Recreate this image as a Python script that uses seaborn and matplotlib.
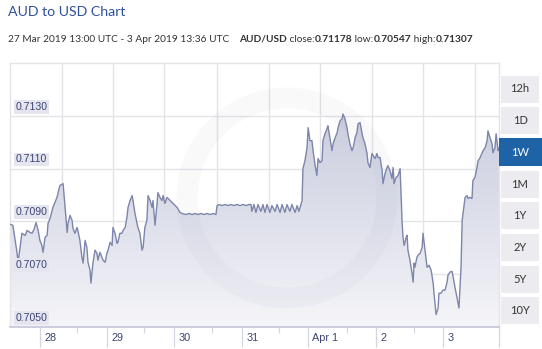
import numpy as np
import pandas as pd
import matplotlib
matplotlib.use("Agg")
import matplotlib.pyplot as plt
import matplotlib.transforms as mtrans
from matplotlib.colors import LinearSegmentedColormap
from matplotlib.patches import Rectangle, Ellipse
import seaborn as sns

# ---------------- data ----------------
hours = [0.0, 1.0, 2.4, 2.8, 4.1, 5.2, 5.9, 6.9, 7.6, 8.3, 9.0, 9.7, 10.3, 11.0, 11.4, 12.1, 12.8, 13.1,
         13.8, 14.8, 16.2, 17.2, 18.3, 19.0, 19.7, 20.0, 20.7, 21.4, 21.7, 22.4, 23.1, 23.4, 24.1, 24.8,
         25.2, 25.9, 26.5, 26.9, 27.6, 27.9, 28.6, 29.3, 30.0, 30.3, 31.0, 31.7, 32.1, 32.8, 33.4, 33.8,
         34.5, 35.2, 35.5, 36.2, 36.9, 37.2, 37.9, 38.6, 39.0, 39.7, 40.3, 40.7, 41.4, 42.1, 42.4, 43.1,
         43.8, 44.1, 44.8, 45.5, 45.9, 46.5, 47.2, 47.6, 48.3, 49.0, 49.3, 50.0, 50.7, 51.0, 51.7, 52.4,
         52.8, 53.4, 54.1, 54.5, 55.2, 56.2, 57.6, 58.6, 59.3, 60.7, 61.7, 62.8, 63.8, 64.8, 65.9, 66.9,
         67.9, 69.0, 70.0, 71.0, 71.4, 72.1, 73.1, 74.1, 75.2, 76.2, 77.2, 78.3, 79.3, 80.3, 81.4, 82.4,
         83.1, 83.4, 84.1, 84.8, 85.5, 86.5, 87.2, 87.9, 88.6, 89.6, 90.3, 91.4, 92.1, 93.1, 93.8, 94.8,
         95.5, 96.5, 97.2, 98.3, 99.0, 99.6, 100.3, 100.7, 101.0, 101.7, 102.4, 102.8, 103.4, 104.1, 104.5,
         105.2, 105.8, 106.2, 106.9, 107.6, 107.9, 108.6, 109.3, 109.6, 110.3, 111.0, 111.4, 112.1, 112.8,
         113.1, 113.8, 114.5, 114.8, 115.5, 116.2, 116.5, 117.2, 117.9, 118.3, 119.0, 119.6, 120.0, 120.7,
         121.4, 121.7, 122.4, 123.1, 123.4, 124.1, 124.8, 125.2, 125.9, 126.5, 126.9, 127.6, 128.3, 128.6,
         129.3, 130.0, 130.3, 131.0, 131.7, 132.1, 132.4, 133.1, 133.8, 134.5, 134.8, 135.2, 135.5, 135.9,
         136.5, 136.9, 137.2, 137.9, 138.6, 139.0, 139.3, 139.6, 140.3, 140.7, 141.4, 142.1, 142.4, 142.7,
         143.4, 143.8, 144.5, 145.2, 145.9, 146.2, 146.9, 147.6, 147.9, 148.6, 149.3, 150.0, 150.7, 151.0,
         151.7, 152.4, 152.8, 153.4, 154.1, 154.8, 155.5, 155.9, 156.2, 156.9, 157.6, 157.9, 158.6, 159.3,
         159.6, 160.3, 161.0, 161.4, 162.1, 162.7, 163.1, 163.8, 164.5, 164.8, 165.5, 166.2, 166.5, 167.2,
         167.6, 167.9, 168.3, 168.6]
rate = [0.70889, 0.70885, 0.70783, 0.70745, 0.70855, 0.70847, 0.70866, 0.70858, 0.70855, 0.70870, 0.70896,
        0.70866, 0.70828, 0.70809, 0.70783, 0.70840, 0.70847, 0.70892, 0.70911, 0.70953, 0.70991, 0.71036,
        0.71043, 0.70953, 0.70858, 0.70892, 0.70923, 0.70904, 0.70874, 0.70855, 0.70877, 0.70866, 0.70828,
        0.70764, 0.70742, 0.70828, 0.70802, 0.70745, 0.70715, 0.70666, 0.70742, 0.70791, 0.70779, 0.70753,
        0.70783, 0.70764, 0.70753, 0.70745, 0.70779, 0.70791, 0.70821, 0.70809, 0.70877, 0.70855, 0.70817,
        0.70821, 0.70855, 0.70855, 0.70866, 0.70877, 0.70915, 0.70953, 0.70979, 0.70998, 0.70979, 0.70930,
        0.70892, 0.70877, 0.70855, 0.70791, 0.70802, 0.70877, 0.70904, 0.70998, 0.70979, 0.70953, 0.70979,
        0.70885, 0.70968, 0.71009, 0.70991, 0.70979, 0.70998, 0.70968, 0.70991, 0.70987, 0.70979, 0.70968,
        0.70953, 0.70934, 0.70930, 0.70926, 0.70930, 0.70926, 0.70930, 0.70926, 0.70930, 0.70926, 0.70930,
        0.70926, 0.70930, 0.70926, 0.70960, 0.70964, 0.70960, 0.70964, 0.70960, 0.70964, 0.70960, 0.70964,
        0.70960, 0.70964, 0.70960, 0.70964, 0.70964, 0.70938, 0.70964, 0.70934, 0.70964, 0.70938, 0.70964,
        0.70934, 0.70964, 0.70934, 0.70960, 0.70938, 0.70964, 0.70934, 0.70964, 0.70934, 0.70964, 0.70938,
        0.70964, 0.70934, 0.70960, 0.70938, 0.70964, 0.70979, 0.71100, 0.71130, 0.71179, 0.71255, 0.71206,
        0.71206, 0.71168, 0.71111, 0.71074, 0.71138, 0.71123, 0.71130, 0.71206, 0.71232, 0.71251, 0.71262,
        0.71217, 0.71168, 0.71194, 0.71217, 0.71236, 0.71255, 0.71281, 0.71289, 0.71307, 0.71289, 0.71255,
        0.71232, 0.71194, 0.71168, 0.71179, 0.71217, 0.71236, 0.71270, 0.71274, 0.71232, 0.71217, 0.71194,
        0.71157, 0.71123, 0.71104, 0.71157, 0.71149, 0.71138, 0.71157, 0.71142, 0.71142, 0.71092, 0.71043,
        0.71081, 0.71104, 0.71111, 0.71092, 0.71062, 0.71104, 0.71043, 0.71066, 0.71074, 0.71100, 0.71017,
        0.70896, 0.70840, 0.70809, 0.70836, 0.70847, 0.70791, 0.70753, 0.70704, 0.70670, 0.70742, 0.70726,
        0.70764, 0.70772, 0.70779, 0.70802, 0.70855, 0.70828, 0.70764, 0.70726, 0.70734, 0.70715, 0.70666,
        0.70628, 0.70547, 0.70572, 0.70628, 0.70628, 0.70640, 0.70640, 0.70670, 0.70696, 0.70708, 0.70711,
        0.70689, 0.70651, 0.70613, 0.70572, 0.70726, 0.70904, 0.70930, 0.70991, 0.70998, 0.70987, 0.70991,
        0.70987, 0.71055, 0.71066, 0.71104, 0.71130, 0.71142, 0.71157, 0.71168, 0.71179, 0.71206, 0.71243,
        0.71217, 0.71194, 0.71160, 0.71179, 0.71232, 0.71206, 0.71168, 0.71178]

y_ticks = [0.7050, 0.7070, 0.7090, 0.7110, 0.7130]
y_labels = ["0.7050", "0.7070", "0.7090", "0.7110", "0.7130"]
day_labels = ["28", "29", "30", "31", "Apr 1", "2", "3"]
day_ticks = [10.3, 33.4, 56.6, 80.0, 102.8, 126.2, 149.3]
minor_ticks = [23.1, 46.2, 69.7, 92.8, 116.2, 139.3]
grid_x = [17.9, 35.5, 53.1, 71.4, 89.3, 106.9, 124.8, 142.4, 160.3]
ranges = ["12h", "1D", "1W", "1M", "1Y", "2Y", "5Y", "10Y"]
active_range = "1W"
title = "AUD to USD Chart"
period = "27 Mar 2019 13:00 UTC - 3 Apr 2019 13:36 UTC"
pair = "AUD/USD"

df = pd.DataFrame({"hours": hours, "rate": rate})

# ---------------- figure ----------------
sns.set_theme(style="white")
plt.rcParams["font.family"] = ["Liberation Sans", "DejaVu Sans"]

W, H = 542, 349
fig = plt.figure(figsize=(W / 100, H / 100), dpi=100)
fig.patch.set_facecolor("white")
ax = fig.add_axes([10 / W, (H - 327) / H, 489 / W, 264 / H])
ax.set_facecolor("white")

x0, x1 = 0, 168.6
y0, y1 = 0.7050, 0.7150

# grid
ax.hlines(y_ticks[1:], x0, x1, color="#e3e3e8", lw=1.0, zorder=0)
ax.vlines(grid_x, y0, y1, color="#e3e3e8", lw=1.0, zorder=0)

# gradient area under the line
poly = ax.fill_between(df["hours"], df["rate"], y0, color="none", lw=0)
cmap = LinearSegmentedColormap.from_list("g", ["#f5f5f9", "#dddfea", "#c8cbdc"])
grad = np.linspace(0, 1, 256).reshape(-1, 1)
im = ax.imshow(grad, extent=[x0, x1, y0, 0.7135], origin="lower", aspect="auto",
               cmap=cmap, zorder=1, interpolation="bicubic")
im.set_clip_path(poly.get_paths()[0], transform=ax.transData)

# faint watermark ring
ring = Ellipse((287 / W, 1 - 198 / H), 2 * 100 / W, 2 * 100 / H, transform=fig.transFigure,
               fill=False, edgecolor="#8a90b0", lw=15, alpha=0.05, zorder=2)
ax.add_patch(ring)
ring.set_clip_path(ax.patch)

sns.lineplot(data=df, x="hours", y="rate", ax=ax, color="#7d86aa", lw=1.0,
             estimator=None, sort=False, zorder=3)

ax.set_xlim(x0, x1)
ax.set_ylim(y0, y1)
ax.set_xlabel("")
ax.set_ylabel("")
ax.set_yticks([])

for s in ["top", "left", "right"]:
    ax.spines[s].set_color("#e3e3e8")
    ax.spines[s].set_linewidth(1.0)
ax.spines["bottom"].set_color("#c3c6d8")
ax.spines["bottom"].set_linewidth(1.2)

# y labels inside plot
for v, lab in zip(y_ticks, y_labels):
    ax.annotate(lab, xy=(0, v), xycoords=("axes fraction", "data"),
                xytext=(4, 3), textcoords="offset points", ha="left", va="bottom",
                fontsize=7.6, color="#3c4474", zorder=5,
                bbox=dict(boxstyle="square,pad=0.18", fc="#e4e5ef", ec="none"))

# x ticks
ax.set_xticks(day_ticks, day_labels)
ax.set_xticks(minor_ticks, minor=True)
ax.tick_params(axis="x", which="major", length=0, pad=4, labelsize=7.8, labelcolor="#3c4474")
ax.tick_params(axis="x", which="minor", length=4, width=0.8, color="#d4d6e0", direction="out", bottom=True)
off = mtrans.ScaledTranslation(3 / 72, 0, fig.dpi_scale_trans)
for t in ax.get_xticklabels():
    t.set_horizontalalignment("left")
    t.set_transform(t.get_transform() + off)
tr = mtrans.blended_transform_factory(ax.transData, ax.transAxes)
ax.vlines(day_ticks, -20 / 264, 0, transform=tr, color="#d4d6e0", lw=0.9, clip_on=False)
ax.vlines([x1], -20 / 264, 0, transform=tr, color="#d4d6e0", lw=0.9, clip_on=False)

# title and subtitle
fig.text(8 / W, 1 - 12 / H, title, fontsize=10.2, color="#2f4f9f", va="center", ha="left",
         family=["Lato", "DejaVu Sans"])
fig.canvas.draw()
renderer = fig.canvas.get_renderer()
pieces = [(period, "normal", 0), (pair, "bold", 10),
          (" close:", "normal", 0), (f"{rate[-1]:.5f}", "bold", 0),
          (" low:", "normal", 0), (f"{min(rate):.5f}", "bold", 0),
          (" high:", "normal", 0), (f"{max(rate):.5f}", "bold", 0)]
xpos = 8
for txt, wt, gap in pieces:
    xpos += gap
    t = fig.text(xpos / W, 1 - 39 / H, txt, fontsize=7.3, fontweight=wt, color="#333333",
                 va="center", ha="left", family=["Lato", "DejaVu Sans"])
    bb = t.get_window_extent(renderer)
    xpos = bb.x1

# range buttons
for i, r in enumerate(ranges):
    cy = 89 + 31.7 * i
    if r == active_range:
        rect = Rectangle((499 / W, 1 - (cy + 14) / H), 43 / W, 28 / H, transform=fig.transFigure,
                         fc="#1f63a7", ec="none")
        col = "white"
    else:
        rect = Rectangle((501 / W, 1 - (cy + 13.5) / H), 38 / W, 27 / H, transform=fig.transFigure,
                         fc="#ececf0", ec="none")
        col = "#333333"
    fig.patches.append(rect)
    fig.text(520 / W, 1 - cy / H, r, fontsize=8, color=col, ha="center", va="center",
             family=["Lato", "DejaVu Sans"])

fig.savefig("out.png", dpi=100, facecolor="white")
